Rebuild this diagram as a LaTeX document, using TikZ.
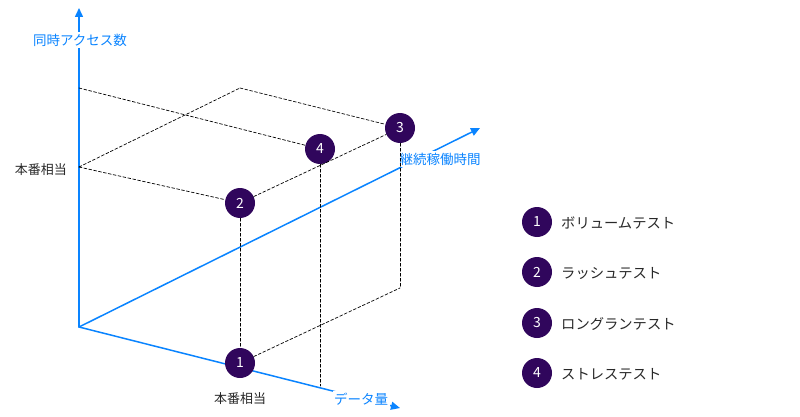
\documentclass[tikz,border=0pt]{standalone}
\usepackage{fontspec}
\setmainfont{Noto Sans CJK JP}
\usetikzlibrary{arrows.meta}
\definecolor{axisblue}{RGB}{10,132,255}
\definecolor{testpurple}{RGB}{48,6,92}
\definecolor{labelgray}{RGB}{40,40,40}

\begin{document}
\begin{tikzpicture}[x=1pt,y=-1pt,line cap=round,line join=round,>={Triangle[length=9pt,width=8pt]},
    axis/.style={draw=axisblue,line width=1.5pt,->},
    axislabel/.style={fill=white,text=axisblue,font=\fontsize{13.5}{13.5}\selectfont,inner sep=1.5pt},
    guide/.style={draw=black,line width=0.7pt,dash pattern=on 3pt off 2pt},
    testdot/.style={circle,fill=testpurple,text=white,minimum size=30pt,inner sep=0pt,font=\fontsize{14}{14}\selectfont},
    plainlabel/.style={text=labelgray,font=\fontsize{13}{13}\selectfont,inner sep=1pt},
    legendlabel/.style={plainlabel,font=\fontsize{14.3}{14.3}\selectfont}]
      \useasboundingbox (0,0) rectangle (800,417);

      % Corner points of the box
      \coordinate (O) at (79,327);
      \coordinate (ytip) at (79,8);
      \coordinate (xtip) at (400,408);
      \coordinate (ztip) at (480,128);
      \coordinate (T) at (79,88);
      \coordinate (A) at (79,167);
      \coordinate (B) at (240,88);
      \coordinate (C) at (400,288);
      \coordinate (D) at (320,386);

      % Add axes
      \draw[axis] (O) -- (ytip); % access
      \draw[axis] (O) -- (xtip); % data
      \draw[axis] (O) -- (ztip); % time
      \node[axislabel] (ylab) at (80,40) {同時アクセス数};
      \node[axislabel] (xlab) at (361,399) {データ量};
      \node[axislabel] (zlab) at (440,159) {継続稼働時間};

      % Add test points
      \node[testdot] (p1) at (240,363) {1};
      \node[testdot] (p2) at (240,203) {2};
      \node[testdot] (p3) at (400,128) {3};
      \node[testdot] (p4) at (320,149) {4};

      % Add dashed guides
      \draw[guide] (A) -- (p2);
      \draw[guide] (A) -- (B);
      \draw[guide] (B) -- (p3);
      \draw[guide] (p2) -- (p3);
      \draw[guide] (T) -- (p4);
      \draw[guide] (p2) -- (p1);
      \draw[guide] (p4) -- (D);
      \draw[guide] (p3) -- (C);
      \draw[guide] (p1) -- (C);

      % Label production level
      \node[plainlabel,left] (ylevel) at (68,170) {本番相当};
      \node[plainlabel] (xlevel) at (240,399) {本番相当};

      % Add legend
      \node[testdot] (leg1) at (537,222) {1};
      \node[testdot] (leg2) at (537,272) {2};
      \node[testdot] (leg3) at (537,323) {3};
      \node[testdot] (leg4) at (537,373) {4};
      \node[legendlabel,right] (legtext1) at (560,223) {ボリュームテスト};
      \node[legendlabel,right] (legtext2) at (560,273) {ラッシュテスト};
      \node[legendlabel,right] (legtext3) at (560,324) {ロングランテスト};
      \node[legendlabel,right] (legtext4) at (560,374) {ストレステスト};
    \end{tikzpicture}
\end{document}
